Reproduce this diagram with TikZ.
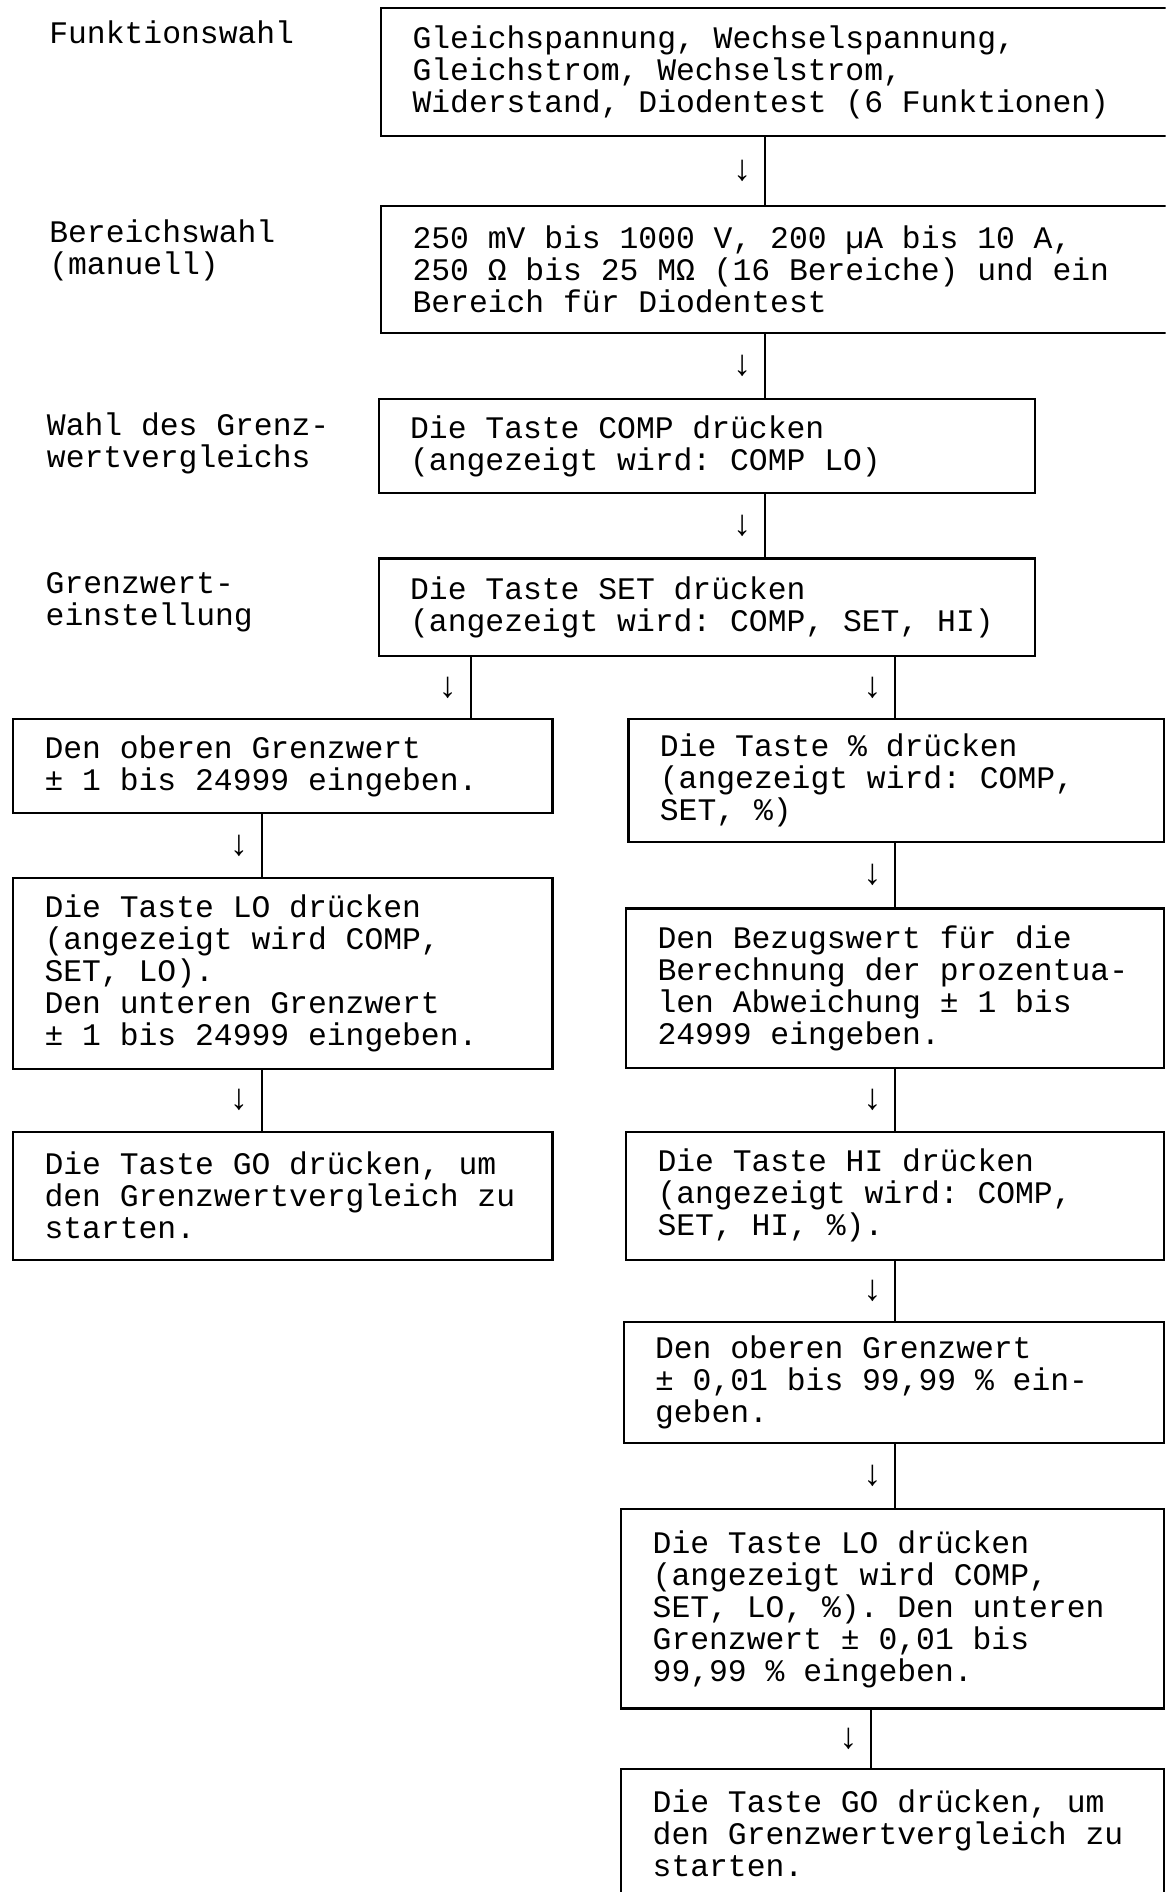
\documentclass[tikz,border=0pt]{standalone}
\usepackage{fontspec}
\setmonofont{Liberation Mono}

\newcommand{\boxfont}{\ttfamily\fontsize{13}{13.25}\selectfont\lineskiplimit=-5pt}
\newcommand{\arrowfont}{\ttfamily\fontsize{15}{15}\selectfont}

\tikzset{
	stepbox/.style={draw,rectangle,anchor=north west,align=flush left,inner xsep=13pt,inner ysep=0pt,font=\boxfont},
	sidetext/.style={anchor=north west,align=flush left,inner sep=0pt,font=\boxfont},
	arrowmark/.style={left=4.5pt,inner sep=0pt,font=\arrowfont},
}

\begin{document}
\begin{tikzpicture}[x=0.5pt,y=-0.5pt,line width=0.9pt]
	\clip (0,0) rectangle (966,1568);

	% Beschriftung links
	\node[sidetext] (lfunk) at (40,16.5) {Funktionswahl};
	\node[sidetext] (lbereich) at (40,181.5) {Bereichswahl\\(manuell)};
	\node[sidetext] (lwahl) at (38,341.5) {Wahl des Grenz-\\wertvergleichs};
	\node[sidetext] (lgrenz) at (37,473.5) {Grenzwert-\\einstellung};

	% Hauptstrang
	\node[stepbox,text width=306.5pt,minimum height=53pt] (funk) at (315,6) {Gleichspannung, Wechselspannung,\\Gleichstrom, Wechselstrom,\\Widerstand, Diodentest (6 Funktionen)};
	\node[stepbox,text width=306.5pt,minimum height=52.5pt] (bereich) at (315,170) {250 mV bis 1000 V, 200 µA bis 10 A,\\250 Ω bis 25 MΩ (16 Bereiche) und ein\\Bereich für Diodentest};
	\node[stepbox,text width=246pt,minimum height=39pt] (comp) at (313,330) {Die Taste COMP drücken\\(angezeigt wird: COMP LO)};
	\node[stepbox,text width=246pt,minimum height=40.5pt] (set) at (313,462) {Die Taste SET drücken\\(angezeigt wird: COMP, SET, HI)};

	% linker Zweig
	\node[stepbox,text width=197.5pt,minimum height=39pt] (hiabs) at (10,595) {Den oberen Grenzwert\\± 1 bis 24999 eingeben.};
	\node[stepbox,text width=197.5pt,minimum height=79pt] (loabs) at (10,727) {Die Taste LO drücken\\(angezeigt wird COMP,\\SET, LO).\\Den unteren Grenzwert\\± 1 bis 24999 eingeben.};
	\node[stepbox,text width=197.5pt,minimum height=53pt] (goabs) at (10,937) {Die Taste GO drücken, um\\den Grenzwertvergleich zu\\starten.};

	% rechter Zweig
	\node[stepbox,text width=196pt,minimum height=51pt] (proz) at (520,595) {Die Taste \% drücken\\(angezeigt wird: COMP,\\SET, \%)};
	\node[stepbox,text width=197pt,minimum height=66pt] (bezug) at (518,752) {Den Bezugswert für die\\Berechnung der prozentua-\\len Abweichung ± 1 bis\\24999 eingeben.};
	\node[stepbox,text width=197pt,minimum height=53pt] (hiproz) at (518,937) {Die Taste HI drücken\\(angezeigt wird: COMP,\\SET, HI, \%).};
	\node[stepbox,text width=198pt,minimum height=50pt] (hiwert) at (516,1095) {Den oberen Grenzwert\\± 0,01 bis 99,99 \% ein-\\geben.};
	\node[stepbox,text width=199pt,minimum height=82.5pt] (loproz) at (514,1250) {Die Taste LO drücken\\(angezeigt wird COMP,\\SET, LO, \%). Den unteren\\Grenzwert ± 0,01 bis\\99,99 \% eingeben.};
	\node[stepbox,text width=199pt,minimum height=53.5pt] (goproz) at (514,1465) {Die Taste GO drücken, um\\den Grenzwertvergleich zu\\starten.};

	% Verbindungen
	\coordinate (trunk) at (634,0);
	\coordinate (fork) at (390,0);
	\coordinate (leftcol) at (217,0);
	\coordinate (rightcol) at (742,0);
	\coordinate (rightlow) at (722,0);

	\draw (funk.south -| trunk) -- node[arrowmark] {↓} (bereich.north -| trunk);
	\draw (bereich.south -| trunk) -- node[arrowmark] {↓} (comp.north -| trunk);
	\draw (comp.south -| trunk) -- node[arrowmark] {↓} (set.north -| trunk);
	\draw (set.south -| fork) -- node[arrowmark] {↓} (hiabs.north -| fork);
	\draw (set.south -| rightcol) -- node[arrowmark] {↓} (proz.north -| rightcol);

	\draw (hiabs.south -| leftcol) -- node[arrowmark] {↓} (loabs.north -| leftcol);
	\draw (loabs.south -| leftcol) -- node[arrowmark] {↓} (goabs.north -| leftcol);

	\draw (proz.south -| rightcol) -- node[arrowmark] {↓} (bezug.north -| rightcol);
	\draw (bezug.south -| rightcol) -- node[arrowmark] {↓} (hiproz.north -| rightcol);
	\draw (hiproz.south -| rightcol) -- node[arrowmark] {↓} (hiwert.north -| rightcol);
	\draw (hiwert.south -| rightcol) -- node[arrowmark] {↓} (loproz.north -| rightcol);
	\draw (loproz.south -| rightlow) -- node[arrowmark] {↓} (goproz.north -| rightlow);
\end{tikzpicture}
\end{document}
